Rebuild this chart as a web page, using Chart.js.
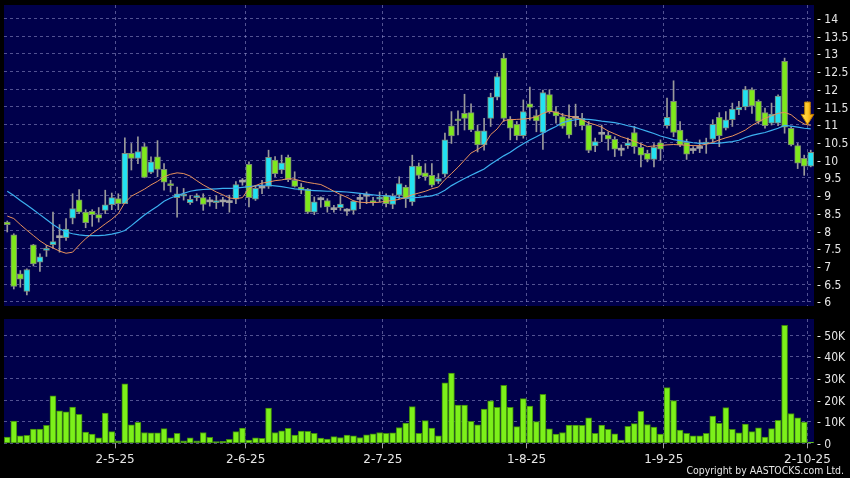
<!DOCTYPE html>
<html><head><meta charset="utf-8">
<script src="https://cdn.jsdelivr.net/npm/chart.js@4.4.1/dist/chart.umd.min.js"></script>
<style>
html,body{margin:0;padding:0;background:#000;}
#wrap{position:relative;width:850px;height:478px;background:#000;overflow:hidden;}
#price{position:absolute;left:0;top:0;width:850px;height:312px;}
#vol{position:absolute;left:0;top:312px;width:850px;height:166px;}
#copy{position:absolute;right:6px;top:464px;font:10.4px 'DejaVu Sans Condensed','DejaVu Sans',sans-serif;color:#e6e6e6;white-space:nowrap;}
</style></head><body>
<div id="wrap">
<canvas id="price" width="850" height="312"></canvas>
<canvas id="vol" width="850" height="166"></canvas>
<div id="copy">Copyright by AASTOCKS.com Ltd.</div>
</div>
<script>
// ---- data ----
const opens = [8.25,7.89,6.79,6.29,7.61,7.12,7.45,7.61,7.81,7.81,8.36,8.88,8.53,8.55,8.46,8.58,8.74,8.91,8.77,10.19,
10.05,10.38,9.65,10.09,9.74,9.34,8.94,8.98,8.80,8.94,8.94,8.82,8.80,8.82,8.80,8.90,9.38,9.88,8.90,9.21,
9.26,10.00,9.72,10.08,9.43,9.24,9.18,8.53,8.88,8.86,8.60,8.66,8.56,8.58,8.89,8.98,8.85,8.90,9.00,8.75,
9.01,9.24,8.82,9.83,9.64,9.57,9.40,9.60,10.97,11.16,11.32,11.34,10.83,10.43,11.18,11.78,12.88,11.16,11.01,10.69,
11.59,11.26,10.78,11.85,11.37,11.23,11.18,11.18,11.18,10.99,10.40,10.73,10.71,10.59,10.28,10.41,10.78,10.36,10.19,10.02,
10.49,10.97,11.66,10.85,10.50,10.27,10.33,10.45,10.59,11.21,10.90,11.14,11.42,11.50,11.99,11.66,11.34,11.04,11.04,12.79,
10.90,10.41,10.05,9.83];
const highs = [8.28,7.92,6.88,6.93,7.62,7.35,7.59,8.53,8.18,8.35,9.05,9.17,8.60,8.60,8.66,9.15,9.07,9.05,10.63,10.47,
10.66,10.47,10.09,10.55,9.90,9.43,9.24,9.20,9.00,9.05,9.05,8.95,9.00,8.95,9.01,9.39,9.48,9.95,9.29,9.43,
10.28,10.10,10.14,10.14,9.67,9.34,9.20,8.96,8.96,8.91,8.72,9.00,8.63,8.86,9.05,9.10,8.95,9.10,9.05,9.05,
9.53,9.29,10.14,9.92,9.90,9.90,9.62,10.76,11.37,11.39,11.86,11.59,10.99,11.18,11.89,12.46,13.01,11.23,11.09,11.70,
12.06,11.42,11.98,11.99,11.51,11.32,11.56,11.58,11.32,11.09,10.62,10.99,10.80,10.66,10.43,10.62,10.95,10.47,10.28,10.47,
10.57,11.75,12.24,11.09,10.59,10.38,10.57,10.62,11.14,11.34,11.37,11.61,11.66,12.08,12.04,11.70,11.47,11.61,11.84,12.88,
10.95,10.47,10.14,10.28];
const lows = [7.97,6.36,6.41,6.19,7.01,6.86,7.28,7.52,7.40,7.73,8.20,8.49,8.09,8.13,8.25,8.49,8.60,8.60,8.77,9.72,
9.90,9.50,9.62,9.53,9.15,9.10,8.39,8.87,8.75,8.85,8.58,8.70,8.63,8.70,8.53,8.77,9.29,8.68,8.86,9.05,
9.20,9.53,9.62,9.39,9.24,9.05,8.49,8.46,8.67,8.53,8.53,8.58,8.44,8.47,8.63,8.77,8.72,8.82,8.68,8.63,
8.91,8.66,8.72,9.48,9.43,9.24,9.34,9.53,10.47,10.71,10.85,10.80,10.23,10.28,10.95,11.70,11.09,10.57,10.57,10.62,
11.13,10.80,10.30,11.32,11.04,10.90,10.62,10.95,10.85,10.21,10.24,10.52,10.28,10.10,10.12,10.33,10.19,9.81,9.95,9.81,
10.00,10.90,10.66,10.38,10.02,10.19,10.21,10.19,10.52,10.38,10.85,10.95,11.28,11.42,11.32,11.02,10.90,10.99,10.97,10.76,
10.40,9.76,9.57,9.81];
const closes = [8.18,6.43,6.64,6.91,7.07,7.27,7.50,7.70,7.81,8.05,8.63,8.53,8.23,8.46,8.36,8.74,8.94,8.77,10.19,10.05,
10.24,9.51,9.95,9.74,9.38,9.28,9.05,9.01,8.89,8.99,8.75,8.82,8.83,8.82,8.80,9.31,9.38,8.94,9.20,9.21,
10.08,9.62,9.92,9.45,9.26,9.15,8.53,8.82,8.88,8.68,8.60,8.76,8.56,8.84,8.89,8.98,8.80,8.92,8.77,8.99,
9.34,8.91,9.83,9.57,9.53,9.29,9.48,10.57,10.68,11.11,11.18,10.85,10.43,10.83,11.78,12.36,11.18,10.90,10.69,11.37,
11.49,11.11,11.91,11.37,11.25,10.96,10.71,11.18,10.97,10.27,10.52,10.73,10.59,10.31,10.28,10.49,10.38,10.14,10.02,10.36,
10.31,11.21,10.78,10.43,10.17,10.27,10.33,10.48,11.01,10.69,11.14,11.44,11.49,11.99,11.53,11.09,10.97,11.30,11.81,10.93,
10.43,9.91,9.83,10.22];
// volume in thousands of shares
const volumesK = [2.9,10.3,3.4,3.7,6.6,6.6,8.3,22,15,14.5,16.8,13.4,5.2,4.3,2.5,14,5.4,1.1,27.5,8.5,
9.7,5,4.9,4.9,6.8,2.5,4.6,1.2,2.5,1.1,5,2.8,0.8,0.9,1.8,5.4,7,1.5,2.5,2.3,
16.3,5,5.8,6.9,3.8,5.7,5.5,4.6,2.4,2,3.1,2.7,3.8,3.4,2.7,3.9,4.4,5,4.6,4.8,
7.3,9.3,17,4.6,10.5,7,3.4,28,32.5,17.7,17.7,10.2,8.6,15.8,19.7,16.6,26.8,16.6,7.7,20.7,
17.2,10,22.6,6.7,4.3,5,8.4,8.4,8.3,11.8,4.6,8.4,6.5,4.4,1.5,7.8,9.1,14.8,8.7,7.5,
4.3,25.8,19.8,6.1,4.6,3.5,3.4,4.6,12.6,9.2,16.5,6.5,4.8,8.9,5.4,7.2,2.9,6.8,10.6,54.6,
13.8,11.8,9.8,0.6];
// moving averages as drawn (orange = short, blue = long)
const maShort = [8.42,8.35,8.18,8.02,7.87,7.72,7.60,7.52,7.43,7.37,7.40,7.60,7.78,7.93,8.06,8.20,8.33,8.49,8.80,8.98,
9.08,9.18,9.30,9.40,9.53,9.60,9.64,9.62,9.55,9.42,9.30,9.20,9.10,9.02,8.93,8.91,8.94,9.20,9.28,9.35,
9.38,9.42,9.44,9.48,9.46,9.41,9.37,9.34,9.31,9.22,9.12,9.03,8.95,8.85,8.81,8.80,8.80,8.81,8.84,8.86,
8.89,8.95,9.02,9.07,9.12,9.19,9.24,9.45,9.62,9.80,10.00,10.20,10.30,10.42,10.72,10.88,11.12,11.14,11.15,11.16,
11.18,11.22,11.32,11.38,11.35,11.28,11.24,11.21,11.14,11.05,11.00,10.93,10.82,10.74,10.66,10.60,10.53,10.46,10.38,10.40,
10.41,10.43,10.44,10.43,10.42,10.41,10.41,10.45,10.50,10.57,10.63,10.68,10.76,10.85,10.98,11.08,11.18,11.25,11.32,11.35,
11.28,11.13,11.02,10.98];
const maLong = [9.12,9.00,8.86,8.73,8.60,8.46,8.32,8.18,8.06,7.97,7.92,7.89,7.87,7.87,7.87,7.88,7.91,7.95,8.01,8.15,
8.30,8.45,8.58,8.70,8.84,8.93,9.00,9.06,9.12,9.15,9.17,9.18,9.19,9.20,9.20,9.21,9.23,9.25,9.27,9.29,
9.29,9.27,9.25,9.22,9.19,9.17,9.15,9.14,9.13,9.12,9.12,9.11,9.10,9.08,9.06,9.04,9.02,9.00,8.99,8.97,
8.94,8.93,8.94,8.95,8.97,8.99,9.05,9.15,9.28,9.38,9.48,9.57,9.66,9.75,9.88,10.00,10.12,10.22,10.35,10.46,
10.57,10.66,10.76,10.86,10.95,11.06,11.11,11.14,11.16,11.15,11.13,11.10,11.08,11.06,11.02,10.97,10.93,10.87,10.81,10.75,
10.68,10.63,10.58,10.55,10.52,10.49,10.47,10.47,10.47,10.48,10.50,10.52,10.56,10.64,10.70,10.74,10.78,10.84,10.90,10.98,
10.96,10.93,10.90,10.88];
const tickPositions = [17, 37, 58, 80, 101, 123];
const tickLabels = ['2-5-25', '2-6-25', '2-7-25', '1-8-25', '1-9-25', '2-10-25'];
const priceTicks = [6, 6.5, 7, 7.5, 8, 8.5, 9, 9.5, 10, 10.5, 11, 11.5, 12, 12.5, 13, 13.5, 14];
const volumeTicksK = [0, 10, 20, 30, 40, 50];
const priceRange = [5.88, 14.38];
const volumeRangeK = [0, 57.5];
// signal arrow (category position, price of top / neck / tip)
const arrowAt = 122.5, arrowTop = 11.64, arrowNeck = 11.29, arrowTip = 11.0;

// ---- styles ----
const NAVY = '#00004b';
const GRID = 'rgba(150,150,205,0.55)';
const TXT = '#e6e6e6';
const UP = '#22e2f2', DOWN = '#7ee81c', FLAT = '#a4a4a4';
const AXFONT = {family: "'DejaVu Sans Condensed','DejaVu Sans',sans-serif", size: 12};
const LEFT = 4, AXW = 36;
const cats = opens.map((_, i) => i);
const halfCat = (850 - LEFT - AXW) / cats.length / 2;

const bgPlugin = {
  id: 'bg',
  beforeDraw(chart) {
    const {ctx, chartArea: a} = chart;
    ctx.save();
    ctx.fillStyle = '#000';
    ctx.fillRect(0, 0, chart.width, chart.height);
    ctx.fillStyle = NAVY;
    ctx.fillRect(a.left, a.top, a.right - a.left, a.bottom - a.top);
    ctx.restore();
  }
};
const arrowPlugin = {
  id: 'arrow',
  afterDatasetsDraw(chart) {
    const {ctx, scales: {x, y}} = chart;
    const cx = x.getPixelForValue(arrowAt);
    const t = y.getPixelForValue(arrowTop), n = y.getPixelForValue(arrowNeck), p = y.getPixelForValue(arrowTip);
    ctx.save();
    const g = ctx.createLinearGradient(cx - 6, 0, cx + 6, 0);
    g.addColorStop(0, '#ffe060'); g.addColorStop(0.5, '#ffc828'); g.addColorStop(1, '#e89400');
    ctx.fillStyle = g;
    ctx.strokeStyle = '#b87800';
    ctx.lineWidth = 1;
    ctx.beginPath();
    ctx.moveTo(cx - 2.8, t); ctx.lineTo(cx + 2.8, t); ctx.lineTo(cx + 2.8, n);
    ctx.lineTo(cx + 6.3, n); ctx.lineTo(cx, p); ctx.lineTo(cx - 6.3, n); ctx.lineTo(cx - 2.8, n);
    ctx.closePath(); ctx.fill(); ctx.stroke();
    ctx.restore();
  }
};
const isTick = i => tickPositions.includes(i);
const candleCol = i => closes[i] > opens[i] ? UP : (closes[i] < opens[i] ? DOWN : FLAT);
const fmt = v => String(Math.round(v * 10) / 10);

new Chart(document.getElementById('price'), {
  type: 'bar',
  data: {
    labels: cats,
    datasets: [
      {type: 'line', data: maShort, borderColor: '#e8925c', borderWidth: 1, pointRadius: 0, tension: 0, order: 0},
      {type: 'line', data: maLong, borderColor: '#3cb0f0', borderWidth: 1.2, pointRadius: 0, tension: 0, order: 0},
      {data: opens.map((o, i) => [o, closes[i]]), grouped: false, order: 1, barThickness: 6, minBarLength: 2,
        backgroundColor: cats.map(candleCol),
        borderColor: cats.map(i => closes[i] === opens[i] ? FLAT : '#7c8878'),
        borderWidth: cats.map(i => closes[i] === opens[i] ? 0 : 1), borderSkipped: false},
      {data: lows.map((l, i) => [l, highs[i]]), grouped: false, order: 2, barThickness: 1,
        backgroundColor: '#9a9a9a', borderWidth: 0}
    ]
  },
  options: {
    responsive: false, animation: false, events: [],
    layout: {padding: {left: LEFT, top: 5, right: 0, bottom: 0}},
    plugins: {legend: {display: false}, tooltip: {enabled: false}},
    scales: {
      x: {
        offset: true,
        grid: {offset: true, drawTicks: false, color: c => isTick(c.index) ? GRID : 'transparent'},
        border: {display: false, dash: [3, 3]},
        ticks: {display: false, autoSkip: false},
        afterFit: s => { s.height = 6; s.paddingLeft = 0; s.paddingRight = 0; }
      },
      y: {
        position: 'right', min: priceRange[0], max: priceRange[1],
        afterBuildTicks: s => { s.ticks = priceTicks.map(v => ({value: v})); },
        ticks: {color: TXT, font: AXFONT, padding: 3, labelOffset: 1.5, callback: v => '- ' + fmt(v)},
        grid: {drawTicks: false, color: GRID},
        border: {display: false, dash: [3, 3]},
        afterFit: s => { s.width = AXW; s.paddingTop = 0; s.paddingBottom = 0; }
      }
    }
  },
  plugins: [bgPlugin, arrowPlugin]
});

new Chart(document.getElementById('vol'), {
  type: 'bar',
  data: {
    labels: cats,
    datasets: [
      {data: volumesK, barThickness: 6, backgroundColor: '#7cf01a', borderColor: '#3f8a0c', borderWidth: 1, borderSkipped: false}
    ]
  },
  options: {
    responsive: false, animation: false, events: [],
    layout: {padding: {left: LEFT, top: 7, right: 0, bottom: 0}},
    plugins: {legend: {display: false}, tooltip: {enabled: false}},
    scales: {
      x: {
        offset: true,
        grid: {offset: true, drawTicks: true, tickLength: 5, tickWidth: 1, tickBorderDash: [],
          color: c => isTick(c.index) ? GRID : 'transparent',
          tickColor: c => isTick(c.index) ? '#a0a0a0' : 'transparent'},
        border: {display: false, dash: [3, 3]},
        ticks: {autoSkip: false, maxRotation: 0, minRotation: 0, color: TXT, padding: 4, labelOffset: -halfCat,
          font: {family: "'DejaVu Sans',sans-serif", size: 12},
          callback: (v, i) => { const k = tickPositions.indexOf(i); return k >= 0 ? tickLabels[k] : ''; }},
        afterFit: s => { s.height = 34.7; s.paddingLeft = 0; s.paddingRight = 0; }
      },
      y: {
        position: 'right', min: volumeRangeK[0], max: volumeRangeK[1],
        afterBuildTicks: s => { s.ticks = volumeTicksK.map(v => ({value: v})); },
        ticks: {color: TXT, font: AXFONT, padding: 3, labelOffset: 1.5, callback: v => '- ' + (v === 0 ? '0' : v + 'K')},
        grid: {drawTicks: false, color: GRID},
        border: {display: false, dash: [3, 3]},
        afterFit: s => { s.width = AXW; s.paddingTop = 0; s.paddingBottom = 0; }
      }
    }
  },
  plugins: [bgPlugin]
});
</script>
</body></html>
